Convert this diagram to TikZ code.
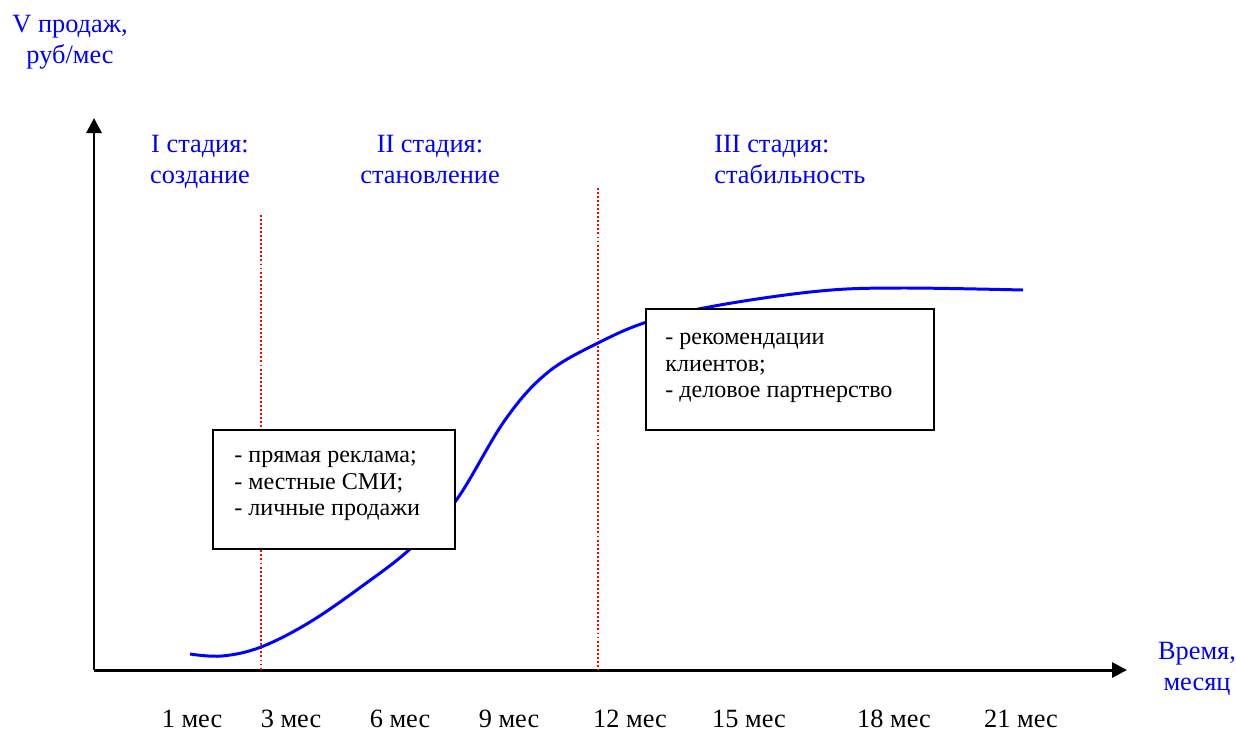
\documentclass[tikz,border=0pt]{standalone}
\usepackage{fontspec}
\setmainfont{Liberation Serif}
\usetikzlibrary{arrows.meta}
\definecolor{lblblue}{RGB}{0,0,255}
\definecolor{sepred}{RGB}{255,0,0}

\begin{document}
\begin{tikzpicture}[x=0.02cm,y=-0.02cm,
    axis/.style={line width=1.7pt,-{Triangle[length=0.3cm,width=0.3cm]}},
    sep/.style={sepred,line width=0.9pt,dash pattern=on 1.1pt off 1.2pt},
    lbl/.style={lblblue,font=\fontsize{15}{17.6}\selectfont,inner sep=0pt,anchor=north},
    tick/.style={font=\fontsize{15}{17.6}\selectfont,inner sep=0pt,anchor=base},
    box/.style={draw,line width=1.1pt,fill=white,inner sep=0pt},
    boxtxt/.style={font=\fontsize{13.7}{15.3}\selectfont,inner sep=0pt,anchor=north west,align=left}]
    \useasboundingbox (0,0) rectangle (1236,731);

    % axes
    \coordinate (origin) at (94,670);
    \coordinate (ytip) at (94,118);
    \coordinate (xtip) at (1127,670);
    \draw[axis] (origin) -- (ytip);
    \draw[axis] (origin) -- (xtip);

    % stage borders
    \coordinate (sepAtop) at (261,215);
    \coordinate (sepAbot) at (261,670);
    \coordinate (sepBtop) at (598,188);
    \coordinate (sepBbot) at (598,670);
    \draw[sep] (sepAtop) -- (sepAbot);
    \draw[sep] (sepBtop) -- (sepBbot);

    % sales curve
    \draw[lblblue,line width=1.7pt] plot[smooth,tension=0.6] coordinates {
        (190,654) (222,656) (261,647) (310,622) (365,584) (410,549)
        (455,502) (505,420) (547,373) (598,343) (650,321) (720,305)
        (820,291) (900,288) (1023,290)};

    % boxes
    \node[box,minimum width=4.84cm,minimum height=2.38cm] (boxA) at (334,489.5) {};
    \node[boxtxt] (boxAtxt) at ([shift={(22,14)}]boxA.north west)
        {\strut- прямая реклама;\\- местные СМИ;\\- личные продажи};
    \node[box,minimum width=5.76cm,minimum height=2.42cm] (boxB) at (790,369.5) {};
    \node[boxtxt] (boxBtxt) at ([shift={(20,17)}]boxB.north west)
        {\strut- рекомендации\\клиентов;\\- деловое партнерство};

    % axis labels
    \node[lbl,align=center] (ylbl) at (70,10.3) {\strut V продаж,\\руб/мес};
    \node[lbl,align=center] (xlbl) at (1197,637.3) {\strut Время,\\месяц};

    % stage labels
    \node[lbl,align=center] (stageA) at (200,130.3) {\strut I стадия:\\создание};
    \node[lbl,align=center] (stageB) at (430,130.3) {\strut II стадия:\\становление};
    \node[lbl,align=left,anchor=north west] (stageC) at (714,130.3) {\strut III стадия:\\стабильность};

    % ticks
    \foreach \m/\xx in {1/192,3/291,6/400,9/509,12/630,15/749,18/894,21/1021}
        \node[tick] (tick\m) at (\xx,727) {\m{} мес};
\end{tikzpicture}
\end{document}
